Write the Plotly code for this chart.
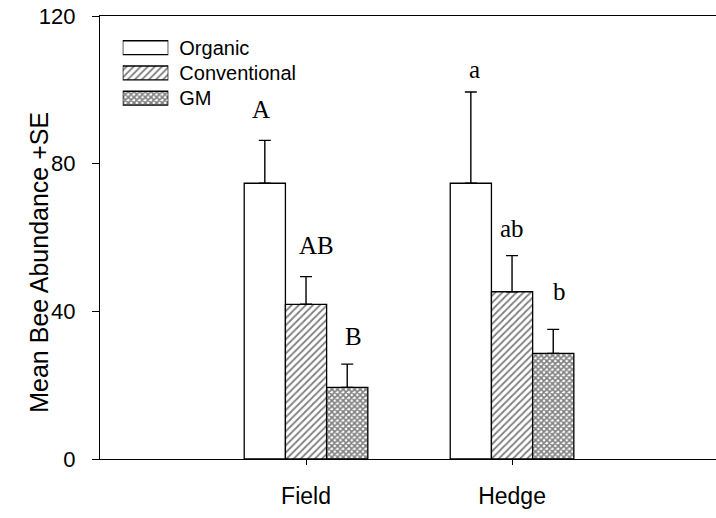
import plotly.graph_objects as go

# Mean bee abundance by habitat and farming system
sites = ["Field", "Hedge"]
site_pos = [1, 2]

series = ["Organic", "Conventional", "GM"]
organic = [74.7, 74.7]
organic_se = [11.6, 24.7]
conventional = [41.9, 45.3]
conventional_se = [7.5, 9.8]
gm = [19.4, 28.6]
gm_se = [6.3, 6.5]

# Significance letters: (text, x position, y position)
letters = ["A", "AB", "B", "a", "ab", "b"]
letter_x = [0.78, 1.05, 1.23, 1.82, 2.0, 2.23]
letter_y = [94.6, 57.7, 33.1, 105.5, 62.5, 45.5]

sans = "Liberation Sans, Arial, sans-serif"
serif = dict(family="Liberation Serif, Times New Roman, serif", size=25, color="black")

outline = dict(color="black", width=1.3)
fills = {
    "Organic": dict(color="white", line=outline),
    "Conventional": dict(color="white", line=outline,
                         pattern=dict(shape="/", fgcolor="black", bgcolor="white",
                                      size=5, solidity=0.35, fillmode="overlay")),
    "GM": dict(color="white", line=outline,
               pattern=dict(shape="x", fgcolor="black", bgcolor="white",
                            size=4, solidity=0.65, fillmode="overlay")),
}


def err(se):
    return dict(type="data", array=se, arrayminus=[0] * len(se), symmetric=False,
                color="black", thickness=1.4, width=6)


fig = go.Figure()
for name, vals, se in zip(series, [organic, conventional, gm],
                          [organic_se, conventional_se, gm_se]):
    fig.add_trace(go.Bar(name=name, x=site_pos, y=vals, error_y=err(se),
                         marker=fills[name], showlegend=False))

# Key: wide pattern swatches on a small inset axis, labelled by its tick text
for name in series:
    fig.add_trace(go.Bar(x=[1], y=[name], orientation="h", width=0.55,
                         marker=fills[name], xaxis="x2", yaxis="y2",
                         showlegend=False, hoverinfo="skip"))

for t, xx, yy in zip(letters, letter_x, letter_y):
    fig.add_annotation(x=xx, y=yy, xref="x", yref="y", text=t, showarrow=False,
                       font=serif, xanchor="center", yanchor="middle")

fig.add_annotation(text="Mean Bee Abundance +SE", textangle=-90, showarrow=False,
                   xref="paper", yref="paper", x=-0.099, y=0.443,
                   xanchor="center", yanchor="middle",
                   font=dict(family=sans, size=25, color="black"))

fig.update_layout(
    width=716, height=518,
    margin=dict(l=100, r=0, t=16, b=59),
    paper_bgcolor="white", plot_bgcolor="white",
    barmode="group", bargap=0.4, bargroupgap=0,
    font=dict(family=sans, size=22, color="black"),
    showlegend=False,
    xaxis=dict(range=[0, 2.99], tickvals=site_pos, ticktext=sites,
               showline=True, linecolor="black", linewidth=1.3, mirror=True,
               ticks="outside", ticklen=5, tickcolor="black", tickwidth=1.3,
               showgrid=False, zeroline=False, ticklabelstandoff=11,
               tickfont=dict(size=23)),
    yaxis=dict(range=[0, 120], tickvals=[0, 40, 80, 120],
               showline=True, linecolor="black", linewidth=1.3,
               ticks="outside", ticklen=7, tickcolor="black", tickwidth=1.3,
               showgrid=False, zeroline=False, ticklabelstandoff=12,
               tickfont=dict(size=22)),
    xaxis2=dict(domain=[0.0369, 0.1109], range=[0, 1], anchor="y2",
                visible=False, fixedrange=True),
    yaxis2=dict(domain=[0.786, 0.957], range=[2.5, -0.5], anchor="x2",
                type="category", categoryorder="array", categoryarray=series,
                side="right", showline=False, showgrid=False, zeroline=False,
                ticks="", ticklabelstandoff=10, fixedrange=True,
                tickfont=dict(size=20)),
)

fig.write_html("out.html")
